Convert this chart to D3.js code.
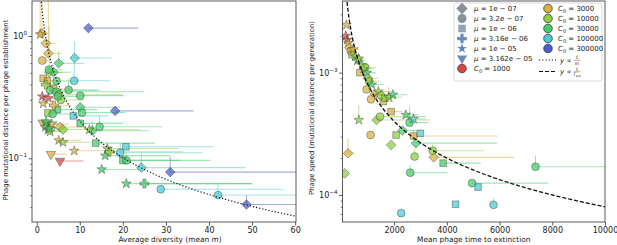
<!DOCTYPE html>
<html><head><meta charset="utf-8">
<script src="https://cdn.jsdelivr.net/npm/d3@7"></script>
<style>body{margin:0;background:#fff}svg{display:block;font-family:"DejaVu Sans",sans-serif}</style>
</head><body><svg id="c" width="617" height="245"></svg>
<script>
// ---- categories ----
const muLabels = ["1e − 07","3.2e − 07","1e − 06","3.16e − 06","1e − 05","3.162e − 05"];
const c0Labels = ["1000","3000","10000","30000","100000","300000"];
const c0Colors = ["#d64848","#d6b23e","#8fce3e","#43cd6c","#48cad6","#4c5ecf"];
const leftXTicks = [0,10,20,30,40,50,60];
const rightXTicks = [2000,4000,6000,8000,10000];
const leftYMajor = [{v:1,e:"0"},{v:0.1,e:"−1"}];
const rightYMajor = [{v:1e-3,e:"−3"},{v:1e-4,e:"−4"}];
const leftFitCoef = 2.02;   // y ∝ 1/m
const rightFitCoef = 0.80;  // y ∝ 1/T_ext

// ---- left panel data ----
const leftM   = [12.0,8.8,8.7,18.2,31.0,48.7,42.1,28.8,24.3,19.4,20.7,20.0,20.8,14.6,12.9,13.7,10.1,10.1,10.1,10.5,8.5,7.4,5.1,4.6,3.9,2.9,2.7,2.1,1.2,1.3,1.5,2.5,3.9,3.1,4.5,5.1,5.6,4.9,0.8,1.3,2.7,1.5,2.6,4.8,1.4,2.3,2.0,2.6,3.1,2.2,3.5,2.9,5.4,6.1,5.1,6.1,8.7,3.3,5.4,12.2,16.4,15.9,15.1,20.8,25.0,16.9,2.8,4.0,3.7,2.1];
const leftY   = [1.16,0.66,0.43,0.244,0.077,0.0418,0.050,0.0558,0.0838,0.111,0.124,0.096,0.096,0.181,0.168,0.133,0.193,0.325,0.261,0.236,0.222,0.362,0.598,0.428,0.505,0.505,0.72,0.87,1.05,0.63,0.45,0.43,0.37,0.36,0.35,0.33,0.30,0.32,1.03,0.32,0.31,0.28,0.235,0.25,0.195,0.19,0.18,0.17,0.165,0.20,0.19,0.175,0.18,0.172,0.14,0.135,0.115,0.108,0.095,0.171,0.12,0.105,0.081,0.062,0.062,0.113,0.53,0.27,0.23,0.40];
const leftMHi = [23.6,17.4,17.0,36.4,70,70,70,57.3,48.4,38.4,41,33.3,40.3,29.1,26,27.5,20.1,20.1,19.4,20.5,16.6,14.7,10.9,9.5,8.0,6.0,5.6,4.5,2.6,2.6,3.2,5.0,8.0,14,25,20,11,10,2.3,2.8,5.6,3.2,5.5,14,3,5,4.5,5.5,7,5,7.5,6.5,11,12,10.3,12.5,17.6,7.0,10.8,24,33,31,24.8,50,50,34,6,8,8,4.5];
const leftYHi = [1.16,0.90,0.60,0.244,0.103,0.050,0.063,0.0558,0.11,0.135,0.124,0.096,0.11,0.22,0.20,0.133,0.193,0.325,0.261,0.236,0.222,0.45,0.75,0.428,0.505,1.2,2.5,0.87,2.5,0.63,0.45,0.43,0.37,0.36,0.35,0.33,0.30,0.32,2.5,0.32,0.31,0.28,0.235,0.25,0.195,0.19,0.18,0.17,0.165,0.20,0.19,0.175,0.18,0.172,0.14,0.135,0.115,0.108,0.095,0.171,0.12,0.105,0.081,0.062,0.068,0.113,0.53,0.27,0.26,0.40];
const leftMu  = [0,0,1,0,0,0,1,1,0,1,2,2,1,1,0,2,2,1,0,1,2,1,0,1,0,0,0,0,0,1,2,2,2,1,1,1,1,1,4,4,4,4,2,2,5,5,4,4,4,4,4,4,0,0,4,4,4,5,5,4,4,4,4,4,3,3,1,3,1,3];
const leftC0  = [5,4,4,5,5,5,4,4,4,4,4,3,3,3,3,3,3,3,3,3,4,3,3,3,3,2,1,1,1,1,1,1,1,3,3,2,2,3,1,0,0,1,2,3,1,3,2,3,2,3,1,3,1,2,1,2,1,1,0,2,2,3,3,3,3,2,3,1,3,2];

// ---- right panel data ----
const rightT   = [7362,5184,4955,5770,4330,2266,2610,3858,3502,3463,2775,2826,2737,2993,2317,2075,1884,1106,1335,1465,2584,2444,2737,660,252,126,1884,1120,1590,188,164,220,260,300,350,400,450,520,600,650,700,780,850,900,960,1000,953,1050,1150,1272,1400,1500,1650,1800,1950];
const rightY   = [1.70e-4,1.16e-4,1.25e-4,8.3e-5,8.4e-5,7.1e-5,1.52e-4,1.82e-4,2.03e-4,2.30e-4,2.06e-4,2.65e-4,3.03e-4,3.19e-4,3.36e-4,3.09e-4,2.56e-4,3.09e-4,4.10e-4,4.37e-4,3.9e-4,4.51e-4,4.18e-4,4.10e-4,2.19e-4,1.50e-4,4.8e-4,6.05e-4,5.8e-4,2.45e-3,2.0e-3,1.85e-3,1.75e-3,1.6e-3,1.5e-3,1.4e-3,1.55e-3,1.35e-3,1.25e-3,1.3e-3,1.0e-3,1.15e-3,1.08e-3,1.1e-3,1.0e-3,9e-4,7.3e-4,8.5e-4,8.0e-4,6.66e-4,7.0e-4,6.5e-4,6.2e-4,6.3e-4,6.6e-4];
const rightTHi = [11000,5184,7833,5770,4330,2266,4010,5285,6560,5413,2775,5900,5920,2993,2900,2075,1884,1106,3376,3200,3300,2900,3200,660,500,126,2300,1120,2000,188,250,300,400,450,500,600,650,800,900,900,900,1100,1200,1300,1300,1400,1200,1500,1600,1600,1900,2000,2100,2300,2500];
const rightYHi = [2.1e-4,1.16e-4,1.25e-4,9.5e-5,8.4e-5,7.1e-5,1.75e-4,1.82e-4,2.03e-4,2.6e-4,2.4e-4,2.65e-4,3.4e-4,3.19e-4,3.36e-4,3.09e-4,2.56e-4,3.09e-4,4.1e-4,4.37e-4,5.3e-4,4.51e-4,4.18e-4,5.4e-4,2.9e-4,1.5e-4,4.8e-4,6.05e-4,5.8e-4,2.45e-3,2.0e-3,1.85e-3,1.75e-3,1.6e-3,1.5e-3,1.4e-3,1.55e-3,1.35e-3,1.25e-3,1.3e-3,1.0e-3,1.15e-3,1.08e-3,1.1e-3,1.0e-3,9e-4,7.3e-4,8.5e-4,8.0e-4,6.66e-4,7.0e-4,6.5e-4,6.2e-4,7.6e-4,6.6e-4];
const rightMu  = [1,2,1,1,2,1,1,2,0,1,1,0,2,2,0,2,0,1,0,1,1,4,4,4,0,0,2,1,2,4,4,4,4,0,1,2,4,4,4,4,2,4,4,1,4,0,1,1,4,0,4,1,2,4,4];
const rightC0  = [3,4,3,4,4,4,3,3,1,2,2,3,1,4,3,2,2,1,2,2,3,3,4,2,1,2,1,1,1,1,0,0,1,1,1,2,1,2,3,2,1,2,3,2,3,2,1,2,3,1,2,2,2,2,3];

const svg = d3.select("#c");
svg.append("rect").attr("width",617).attr("height",245).attr("fill","#fff");

function symbolPath(mu, size){
  const s = size || 1;
  switch(mu){
    case 0: return {d:d3.symbol(d3.symbolSquare, 46*s)(), rot:45};
    case 1: return {d:d3.symbol(d3.symbolCircle, 48*s)(), rot:0};
    case 2: return {d:d3.symbol(d3.symbolSquare, 44*s)(), rot:0};
    case 3: return {d:d3.symbol(d3.symbolCross, 44*s)(), rot:0};
    case 4: return {d:d3.symbol(d3.symbolStar, 30*s)(), rot:0};
    default: return {d:d3.symbol(d3.symbolTriangle, 40*s)(), rot:180};
  }
}

function panel(cfg){
  const {x, y, xs, ys, xhi, yhi, mus, c0s, id} = cfg;
  const [x0,x1] = x.range(), [y0,y1] = y.range();
  const g = svg.append("g");
  g.append("clipPath").attr("id",id).append("rect")
    .attr("x",x0).attr("y",y1).attr("width",x1-x0).attr("height",y0-y1);
  const pg = g.append("g").attr("clip-path",`url(#${id})`);
  const idx = d3.range(xs.length);
  idx.forEach(i=>{
    const col = c0Colors[c0s[i]];
    if (xhi[i] > xs[i]) pg.append("line").attr("x1",x(xs[i])).attr("x2",x(xhi[i]))
      .attr("y1",y(ys[i])).attr("y2",y(ys[i])).attr("stroke",col).attr("stroke-opacity",0.5).attr("stroke-width",1.1);
    if (yhi[i] > ys[i]) pg.append("line").attr("x1",x(xs[i])).attr("x2",x(xs[i]))
      .attr("y1",y(ys[i])).attr("y2",y(yhi[i])).attr("stroke",col).attr("stroke-opacity",0.5).attr("stroke-width",1.1);
  });
  idx.forEach(i=>{
    const s = symbolPath(mus[i]);
    pg.append("path").attr("d",s.d)
      .attr("transform",`translate(${x(xs[i])},${y(ys[i])}) rotate(${s.rot})`)
      .attr("fill",c0Colors[c0s[i]]).attr("fill-opacity",0.72)
      .attr("stroke","#222").attr("stroke-opacity",0.6).attr("stroke-width",0.6);
  });
  const xdom = x.domain(), ydom = y.domain();
  const pts = d3.range(0,401).map(k=>{
    const lo = Math.max(xdom[0],1e-6);
    const xv = lo + (xdom[1]-lo)*k/400;
    return [xv, cfg.coef/xv];
  });
  pg.append("path").attr("d",d3.line().x(p=>x(p[0])).y(p=>y(Math.min(p[1],ydom[1]*3)))(pts))
    .attr("fill","none").attr("stroke","#111").attr("stroke-width",cfg.dash==="dot"?1.2:1.3)
    .attr("stroke-dasharray",cfg.dash==="dot"?"1.2,2":"4,2");
  g.append("rect").attr("x",x0).attr("y",y1).attr("width",x1-x0).attr("height",y0-y1)
    .attr("fill","none").attr("stroke","#333").attr("stroke-width",0.8);
  const xa = g.append("g").attr("transform",`translate(0,${y0})`)
    .call(d3.axisBottom(x).tickValues(cfg.xticks).tickSize(3.5).tickPadding(2).tickFormat(d3.format("d")));
  xa.select(".domain").remove();
  xa.selectAll("line").attr("stroke","#333").attr("stroke-width",0.8);
  xa.selectAll("text").attr("font-size",8).attr("fill","#222").attr("font-family","DejaVu Sans");
  const ya2 = g.append("g").attr("transform",`translate(${x0},0)`)
    .call(d3.axisLeft(y).tickValues(cfg.yminor).tickSize(2).tickFormat(""));
  ya2.select(".domain").remove();
  ya2.selectAll("line").attr("stroke","#333").attr("stroke-width",0.6);
  const ya = g.append("g").attr("transform",`translate(${x0},0)`)
    .call(d3.axisLeft(y).tickValues(cfg.ymajor.map(d=>d.v)).tickSize(3.5).tickFormat(""));
  ya.select(".domain").remove();
  ya.selectAll("line").attr("stroke","#333").attr("stroke-width",0.8);
  cfg.ymajor.forEach(d=>{
    const t = g.append("text").attr("x",x0-5).attr("y",y(d.v)+3).attr("text-anchor","end")
      .attr("font-size",8).attr("fill","#222");
    t.append("tspan").text("10");
    t.append("tspan").attr("dy",-4).attr("font-size",5.6).text(d.e);
  });
  const xl = g.append("text").attr("x",(x0+x1)/2+cfg.xlabShift).attr("y",242).attr("text-anchor","middle")
    .attr("font-size",7.4).attr("fill","#222");
  cfg.xlabel(xl);
  g.append("text").attr("transform",`translate(${cfg.ylabX},${cfg.ylabY}) rotate(-90)`)
    .attr("text-anchor","middle").attr("font-size",6.9).attr("fill","#222").text(cfg.ylabel);
}

function minorTicks(lo, hi){
  const out=[];
  for(let e=-6;e<=1;e++) for(let k=2;k<=9;k++){ const v=k*Math.pow(10,e); if(v>lo&&v<hi) out.push(v); }
  return out;
}

const xL = d3.scaleLinear().domain([-1.1,60.2]).range([32,296]);
const yL = d3.scaleLog().domain([0.0301,1.932]).range([222,1]);
panel({id:"clipL", x:xL, y:yL, xs:leftM, ys:leftY, xhi:leftMHi, yhi:leftYHi, mus:leftMu, c0s:leftC0,
  coef:leftFitCoef, dash:"dot", xticks:leftXTicks, ymajor:leftYMajor, yminor:minorTicks(0.0301,1.932),
  xlabShift:6, ylabX:8, ylabY:110, ylabel:"Phage mutational distance per phage establishment",
  xlabel:t=>{t.append("tspan").text("Average diversity (mean ");t.append("tspan").attr("font-style","italic").text("m");t.append("tspan").text(")");}});

const xR = d3.scaleLinear().domain([40,10000]).range([342.5,605]);
const yR = d3.scaleLog().domain([6.01e-5,3.85e-3]).range([222,1]);
panel({id:"clipR", x:xR, y:yR, xs:rightT, ys:rightY, xhi:rightTHi, yhi:rightYHi, mus:rightMu, c0s:rightC0,
  coef:rightFitCoef, dash:"dash", xticks:rightXTicks, ymajor:rightYMajor, yminor:minorTicks(6.01e-5,3.85e-3),
  xlabShift:0, ylabX:314, ylabY:108, ylabel:"Phage speed (mutational distance per generation)",
  xlabel:t=>t.text("Mean phage time to extinction")});

// ---- legend ----
const lg = svg.append("g");
lg.append("rect").attr("x",454).attr("y",3).attr("width",148).attr("height",78).attr("rx",2)
  .attr("fill","#fff").attr("fill-opacity",0.85).attr("stroke","#d0d0d0").attr("stroke-width",0.8);
const rowY = [8.5,18.5,28.5,38.5,48.5,58.5,68.5];
const muCols = ["#8a9099","#8a9099","#8fa3b8","#6b8fbb","#5a84ba","#6e8db3"];
const muLegScale = [1.4,1.3,1.3,1.2,1.0,1.1];
muLabels.forEach((lab,i)=>{
  const s = symbolPath(i, muLegScale[i]);
  lg.append("path").attr("d",s.d).attr("transform",`translate(462,${rowY[i]}) rotate(${s.rot})`)
    .attr("fill",muCols[i]);
  const t = lg.append("text").attr("x",474).attr("y",rowY[i]+2.5).attr("font-size",7).attr("fill","#222");
  t.append("tspan").attr("font-style","italic").text("μ");
  t.append("tspan").text(" = "+lab);
});
function c0Entry(cx, tx, yy, ci){
  lg.append("circle").attr("cx",cx).attr("cy",yy).attr("r",4.3).attr("fill",c0Colors[ci])
    .attr("stroke","#222").attr("stroke-width",0.7);
  const t = lg.append("text").attr("x",tx).attr("y",yy+2.5).attr("font-size",7).attr("fill","#222");
  t.append("tspan").attr("font-style","italic").text("C");
  t.append("tspan").attr("font-size",5).attr("dy",1.5).text("0");
  t.append("tspan").attr("dy",-1.5).text(" = "+c0Labels[ci]);
}
c0Entry(462, 474, rowY[6], 0);
[1,2,3,4,5].forEach((ci,k)=>c0Entry(548, 558, rowY[k], ci));
[[60,"1.2,2","m"],[71.5,"4,2","T"]].forEach(([yy,dash,den])=>{
  lg.append("line").attr("x1",539).attr("x2",556).attr("y1",yy).attr("y2",yy)
    .attr("stroke","#111").attr("stroke-width",1.2).attr("stroke-dasharray",dash);
  const t = lg.append("text").attr("x",560).attr("y",yy+2.5).attr("font-size",7).attr("fill","#222");
  t.append("tspan").attr("font-style","italic").text("y");
  t.append("tspan").text(" ∝ ");
  lg.append("text").attr("x",577).attr("y",yy-0.8).attr("font-size",4.5).attr("text-anchor","middle").attr("fill","#222").text("1");
  lg.append("line").attr("x1",574).attr("x2",580.5).attr("y1",yy+0.3).attr("y2",yy+0.3).attr("stroke","#222").attr("stroke-width",0.4);
  const b = lg.append("text").attr("x",577).attr("y",yy+4.6).attr("font-size",4.5).attr("text-anchor","middle").attr("fill","#222");
  b.append("tspan").attr("font-style","italic").text(den);
  if(den==="T") b.append("tspan").attr("font-size",3.2).attr("dy",1).text("ext");
});
</script></body></html>
